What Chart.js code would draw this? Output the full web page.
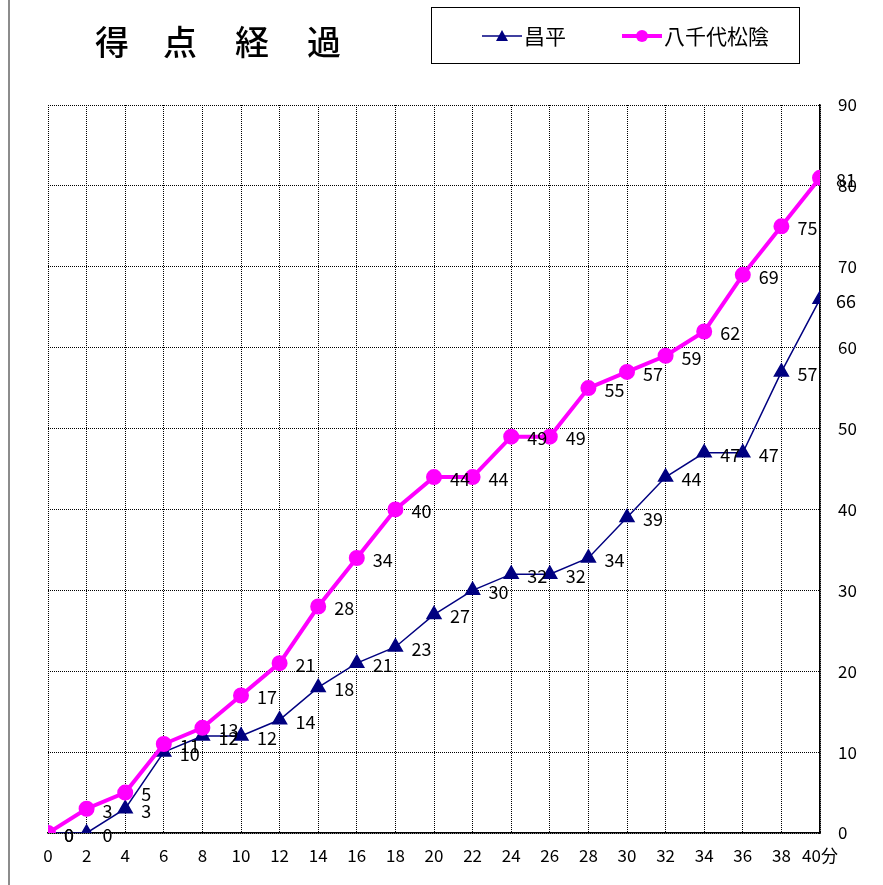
<!DOCTYPE html>
<html>
<head>
<meta charset="utf-8">
<script src="https://cdn.jsdelivr.net/npm/chart.js@4/dist/chart.umd.min.js"></script>
<style>
  html, body { margin: 0; padding: 0; background: #fff; }
  #wrap { width: 883px; height: 885px; position: relative; }
</style>
</head>
<body>
<div id="wrap"><canvas id="score"></canvas></div>
<script>
// 得点経過 data (minutes every 2)
const minutes = [0, 2, 4, 6, 8, 10, 12, 14, 16, 18, 20, 22, 24, 26, 28, 30, 32, 34, 36, 38, 40];
const shoheiScores = [0, 0, 3, 10, 12, 12, 14, 18, 21, 23, 27, 30, 32, 32, 34, 39, 44, 47, 47, 57, 66];
const yachiyoScores = [0, 3, 5, 11, 13, 17, 21, 28, 34, 40, 44, 44, 49, 49, 55, 57, 59, 62, 69, 75, 81];
const yTicks = [0, 10, 20, 30, 40, 50, 60, 70, 80, 90];
const titleChars = ['得', '点', '経', '過'];

const FONT = "'Noto Sans CJK JP', 'Noto Sans', sans-serif";

function toPoints(values) {
    return minutes.map((m, i) => ({ x: m, y: values[i] }));
}

// draws value labels, title, legend box and the left rule
const decorations = {
    id: 'decorations',
    afterDatasetsDraw(chart) {
        const ctx = chart.ctx;
        ctx.save();
        ctx.fillStyle = '#000';
        ctx.font = '18px ' + FONT;
        ctx.textAlign = 'left';
        ctx.textBaseline = 'middle';
        chart.data.datasets.forEach((ds, di) => {
            const meta = chart.getDatasetMeta(di);
            meta.data.forEach((pt, i) => {
                ctx.fillText(String(ds.data[i].y), pt.x + 16, pt.y + 2);
            });
        });
        ctx.restore();
    },
    afterDraw(chart) {
        const ctx = chart.ctx;
        ctx.save();

        // left gray rule
        ctx.fillStyle = '#8c8c8c';
        ctx.fillRect(8, 0, 2, 885);

        // title
        ctx.fillStyle = '#000';
        ctx.font = '500 34px ' + FONT;
        ctx.textAlign = 'center';
        ctx.textBaseline = 'middle';
        const titleX = [112, 180, 252, 324];
        titleChars.forEach((c, i) => ctx.fillText(c, titleX[i], 42));

        // legend box
        ctx.strokeStyle = '#000';
        ctx.lineWidth = 1;
        ctx.strokeRect(431.5, 7.5, 368, 56);

        const items = [
            { ds: chart.data.datasets[0], x: 482 },
            { ds: chart.data.datasets[1], x: 622 }
        ];
        ctx.font = '21px ' + FONT;
        ctx.textAlign = 'left';
        items.forEach(it => {
            const y = 36;
            ctx.strokeStyle = it.ds.borderColor;
            ctx.lineWidth = it.ds.borderWidth;
            ctx.beginPath();
            ctx.moveTo(it.x, y);
            ctx.lineTo(it.x + 40, y);
            ctx.stroke();
            ctx.fillStyle = it.ds.pointBackgroundColor;
            ctx.beginPath();
            if (it.ds.pointStyle === 'triangle') {
                ctx.moveTo(it.x + 20, y - 6);
                ctx.lineTo(it.x + 26, y + 5);
                ctx.lineTo(it.x + 14, y + 5);
                ctx.closePath();
            } else {
                ctx.arc(it.x + 20, y, 6, 0, Math.PI * 2);
            }
            ctx.fill();
            ctx.fillStyle = '#000';
            ctx.fillText(it.ds.label, it.x + 42, y);
        });
        ctx.restore();
    }
};

new Chart(document.getElementById('score'), {
    type: 'line',
    data: {
        datasets: [
            {
                label: '昌平',
                data: toPoints(shoheiScores),
                borderColor: '#000080',
                backgroundColor: '#000080',
                pointBackgroundColor: '#000080',
                pointBorderColor: '#000080',
                borderWidth: 1.5,
                pointStyle: 'triangle',
                pointRadius: 8,
                tension: 0,
                order: 2
            },
            {
                label: '八千代松陰',
                data: toPoints(yachiyoScores),
                borderColor: '#ff00ff',
                backgroundColor: '#ff00ff',
                pointBackgroundColor: '#ff00ff',
                pointBorderColor: '#ff00ff',
                borderWidth: 4,
                pointStyle: 'circle',
                pointRadius: 6,
                tension: 0,
                order: 1
            }
        ]
    },
    options: {
        responsive: true,
        maintainAspectRatio: false,
        animation: false,
        layout: { padding: { left: 48, top: 105, right: 0, bottom: 0 } },
        plugins: {
            legend: { display: false },
            title: { display: false },
            tooltip: { enabled: false }
        },
        scales: {
            x: {
                type: 'linear',
                min: 0,
                max: 40,
                afterFit: s => { s.height = 52; },
                afterBuildTicks: s => { s.ticks = minutes.map(v => ({ value: v })); },
                ticks: {
                    color: '#000',
                    font: { family: FONT, size: 17 },
                    padding: 12,
                    maxRotation: 0,
                    autoSkip: false,
                    callback: v => (v === 40 ? '40分' : String(v))
                },
                grid: { color: '#000', lineWidth: 1, drawTicks: false },
                border: { display: true, color: '#000', width: 1.5, dash: [1, 1] }
            },
            y: {
                position: 'right',
                min: 0,
                max: 90,
                afterFit: s => { s.width = 63; },
                afterBuildTicks: s => { s.ticks = yTicks.map(v => ({ value: v })); },
                ticks: {
                    color: '#000',
                    font: { family: FONT, size: 17 },
                    padding: 18,
                    autoSkip: false
                },
                grid: { color: '#000', lineWidth: 1, drawTicks: false },
                border: { display: true, color: '#000', width: 1.5, dash: [1, 1] }
            }
        }
    },
    plugins: [decorations]
});
</script>
</body>
</html>
